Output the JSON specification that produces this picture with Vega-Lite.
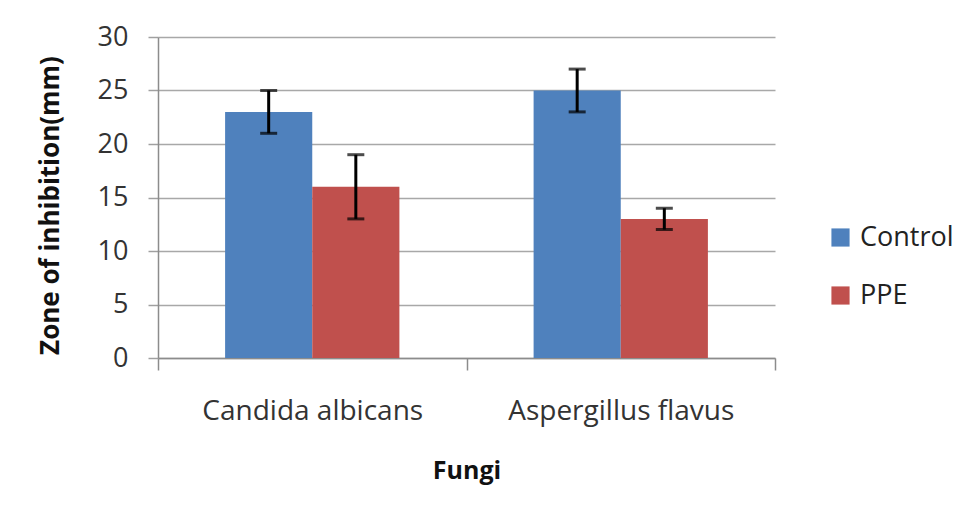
{
  "$schema": "https://vega.github.io/schema/vega-lite/v6.json",
  "autosize": "none",
  "width": 617,
  "height": 321,
  "padding": {"left": 158, "top": 37, "right": 186, "bottom": 157},
  "background": "white",
  "data": {"values": [
    {"fungus": "Candida albicans", "group": "Control", "value": 23, "lo": 21, "hi": 25},
    {"fungus": "Candida albicans", "group": "PPE", "value": 16, "lo": 13, "hi": 19},
    {"fungus": "Aspergillus flavus", "group": "Control", "value": 25, "lo": 23, "hi": 27},
    {"fungus": "Aspergillus flavus", "group": "PPE", "value": 13, "lo": 12, "hi": 14}
  ]},
  "encoding": {
    "x": {"field": "fungus", "type": "nominal", "sort": ["Candida albicans", "Aspergillus flavus"],
      "scale": {"paddingInner": 0, "paddingOuter": 0},
      "axis": {"title": "Fungi", "labelAngle": 0, "tickBand": "extent", "tickSize": 12, "tickColor": "#8c8c8c", "tickWidth": 1.5,
        "domainColor": "#8c8c8c", "domainWidth": 1.5, "labelFont": "Open Sans", "labelFontSize": 28, "labelColor": "#333333", "labelPadding": 27, "labelLimit": 0,
        "titleFont": "Open Sans", "titleFontSize": 25, "titleFontWeight": "bold", "titleColor": "#111111", "titlePadding": 33, "grid": false}},
    "xOffset": {"field": "group", "type": "nominal", "scale": {"paddingInner": 0, "paddingOuter": 0.77}}
  },
  "layer": [
    {
      "mark": {"type": "bar"},
      "encoding": {
        "y": {"field": "value", "type": "quantitative", "scale": {"domain": [0, 30]},
          "axis": {"title": "Zone of inhibition(mm)", "values": [0, 5, 10, 15, 20, 25, 30], "tickSize": 10, "tickColor": "#a0a0a0", "tickWidth": 1.5,
            "domainColor": "#8c8c8c", "domainWidth": 1.5, "gridColor": "#a8a8a8", "gridWidth": 1.5,
            "labelFont": "Open Sans", "labelFontSize": 27, "labelColor": "#333333", "labelPadding": 20,
            "titleFont": "Open Sans", "titleFontSize": 26, "titleFontWeight": "bold", "titleColor": "#111111", "titleX": -108, "titleY": 168, "titleAngle": -90, "titleBaseline": "middle", "titleAlign": "center"}},
        "color": {"field": "group", "type": "nominal", "scale": {"domain": ["Control", "PPE"], "range": ["#4F81BD", "#C0504D"]},
          "legend": {"title": null, "orient": "none", "legendX": 669, "legendY": 187, "symbolType": "square", "symbolSize": 330, "symbolStrokeWidth": 0,
            "labelFont": "Open Sans", "labelFontSize": 27, "labelColor": "#222222", "rowPadding": 30, "labelOffset": 6}}
      }
    },
    {
      "mark": {"type": "rule", "color": "black", "strokeWidth": 3},
      "encoding": {"y": {"field": "lo", "type": "quantitative"}, "y2": {"field": "hi"}}
    },
    {
      "mark": {"type": "tick", "color": "black", "thickness": 3, "size": 17},
      "encoding": {"y": {"field": "lo", "type": "quantitative"}}
    },
    {
      "mark": {"type": "tick", "color": "black", "thickness": 3, "size": 17},
      "encoding": {"y": {"field": "hi", "type": "quantitative"}}
    }
  ],
  "config": {"view": {"stroke": null}}
}
